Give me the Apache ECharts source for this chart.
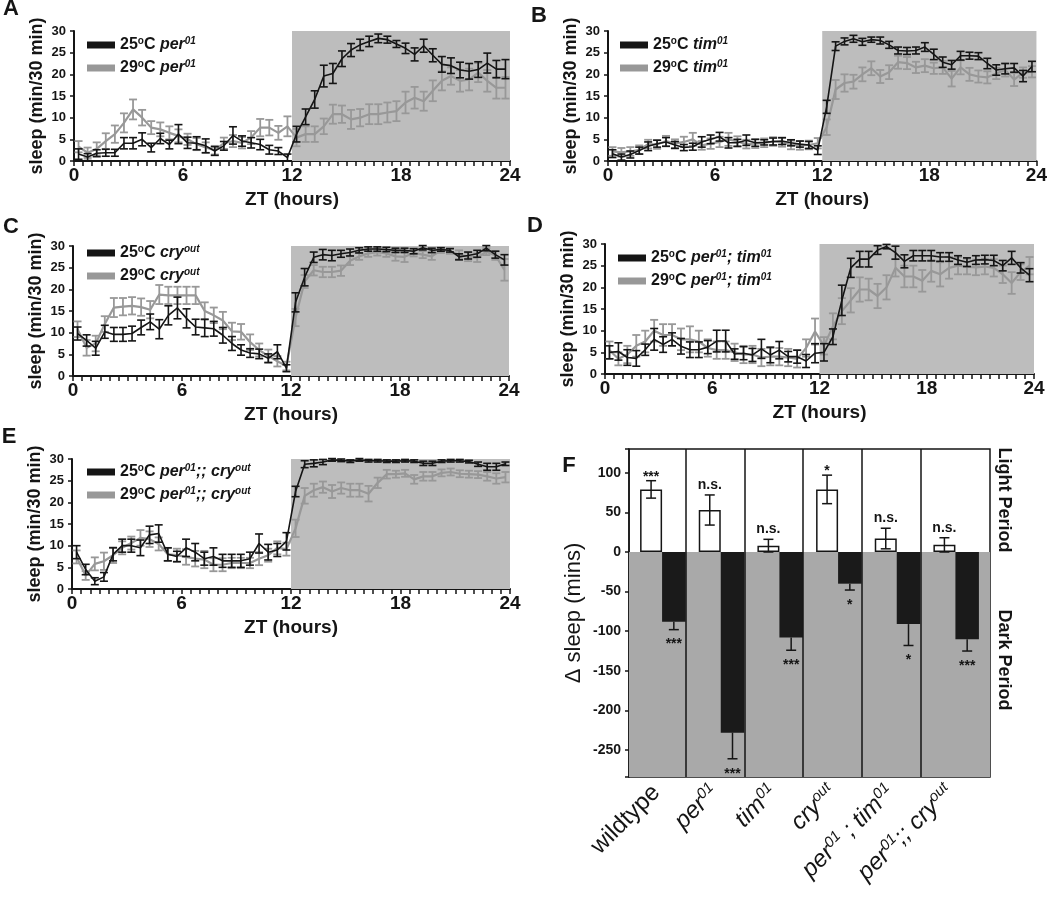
<!DOCTYPE html>
<html><head><meta charset="utf-8">
<script src="https://cdn.jsdelivr.net/npm/echarts@6/dist/echarts.min.js"></script>
<style>html,body{margin:0;padding:0;background:#fff}#c{width:1050px;height:900px}</style>
</head><body><div id="c"></div>
<script>
// ---------- DATA ----------
const ZT = [0.25,0.75,1.25,1.75,2.25,2.75,3.25,3.75,4.25,4.75,5.25,5.75,6.25,6.75,7.25,7.75,8.25,8.75,9.25,9.75,10.25,10.75,11.25,11.75,
  12.25,12.75,13.25,13.75,14.25,14.75,15.25,15.75,16.25,16.75,17.25,17.75,18.25,18.75,19.25,19.75,20.25,20.75,21.25,21.75,22.25,22.75,23.25,23.75];
const xTickLabels = [0,6,12,18,24];

const A25 = [1.6,0.9,1.8,1.9,1.9,4.1,4.1,5.0,3.1,5.2,3.8,6.2,4.2,4.1,3.5,2.3,3.5,5.9,4.6,4.2,3.8,2.6,2.3,0.8,
  6.2,10.2,14.2,19.6,20.2,23.6,25.6,26.8,27.6,28.3,28.0,27.0,26.0,24.6,26.6,24.4,22.3,22.0,21.0,20.7,21.1,22.6,21.2,21.2];
const A25err = [1.2,0.8,0.8,0.8,0.8,1.3,1.3,1.5,1.0,1.2,1.0,2.2,1.3,1.5,1.6,1.0,1.0,2.0,1.2,1.2,1.2,1.0,0.8,0.8,
  1.8,1.8,2.0,2.5,2.3,1.8,1.5,1.3,1.2,1.0,0.8,0.8,1.2,1.5,1.5,1.5,1.8,1.8,1.8,1.8,1.8,2.3,2.0,2.2];
const A29 = [3.3,1.9,2.8,4.6,6.2,8.8,11.9,10.0,7.7,7.3,6.5,5.8,5.0,3.9,3.1,2.5,4.1,4.6,4.2,5.4,7.7,7.7,6.5,8.0,
  5.4,6.2,6.2,8.0,10.8,10.8,9.6,10.0,10.8,10.8,11.2,11.5,13.5,14.6,13.8,16.2,18.5,19.6,18.5,18.8,20.4,18.5,16.9,16.9];
const A29err = [1.3,1.2,1.5,1.8,2.0,2.2,2.3,1.8,1.5,1.6,1.5,1.5,1.3,1.4,1.2,1.0,1.3,1.4,1.3,1.5,2.0,1.8,1.6,2.3,
  2.0,1.8,1.8,1.8,2.2,2.0,2.2,2.0,2.3,2.3,2.3,2.3,2.5,2.5,2.2,2.4,2.2,2.0,2.5,2.5,2.2,2.5,2.5,2.5];

const B25 = [1.7,0.9,1.5,2.4,3.4,4.0,4.4,3.7,3.1,3.3,4.4,5.0,5.6,4.2,4.2,4.8,4.2,4.3,4.5,4.6,4.2,3.9,3.7,2.5,
  12.5,26.5,27.6,28.2,27.5,28.0,27.8,26.8,25.5,25.4,25.5,26.3,24.6,22.8,22.2,24.3,24.3,24.2,22.5,21.0,21.3,21.5,19.6,21.8];
const B25err = [0.9,0.7,0.8,0.8,1.0,0.8,1.0,0.8,0.7,0.8,1.2,1.0,1.0,1.2,0.8,1.2,0.8,0.6,0.8,0.8,0.7,0.7,0.8,1.0,
  1.5,1.0,0.8,0.8,0.8,0.6,0.8,0.8,0.8,0.8,0.8,1.0,1.2,1.2,1.0,1.0,0.8,0.8,1.2,1.2,1.2,1.0,1.3,1.2];
const B29 = [2.2,2.0,2.2,2.6,3.9,3.8,4.6,4.0,4.4,5.0,3.6,4.0,4.4,5.0,4.5,3.9,4.0,4.2,4.5,4.3,3.7,3.6,3.7,4.1,
  7.8,16.5,18.0,18.3,20.0,21.4,19.5,20.5,22.8,22.6,21.6,22.0,21.4,21.6,19.0,21.6,20.0,19.5,19.3,20.2,21.0,18.8,20.4,20.6];
const B29err = [1.0,1.0,1.0,1.0,1.0,1.0,1.2,1.0,1.2,1.5,1.0,1.2,1.2,1.5,1.2,1.0,1.0,1.0,1.0,1.0,1.0,1.0,1.0,1.2,
  1.8,2.2,2.0,1.6,1.6,1.6,1.5,1.6,1.5,1.4,1.3,1.5,1.3,1.5,1.8,1.6,1.5,1.4,1.4,1.3,1.5,1.5,1.2,1.3];

const C25 = [9.8,8.2,6.4,10.2,9.6,9.6,9.8,11.2,12.5,10.8,14.0,15.7,13.3,11.3,11.1,10.9,9.4,7.5,6.0,5.3,5.1,4.1,5.6,1.8,
  17.0,22.8,27.4,28.0,27.8,28.2,28.5,29.0,29.3,29.3,29.2,29.0,29.0,28.8,29.6,29.0,29.2,29.0,27.5,27.8,28.2,29.5,28.0,26.8];
const C25err = [1.5,1.3,1.6,1.5,1.6,1.6,1.7,1.7,1.8,2.2,2.2,2.5,2.2,1.8,2.0,1.7,1.8,1.6,1.2,1.0,1.1,1.0,1.6,0.8,
  2.2,2.0,1.2,1.2,1.2,0.8,0.8,0.6,0.5,0.5,0.5,0.5,0.5,0.6,0.5,0.5,0.4,0.4,0.7,0.8,0.8,0.6,0.8,1.2];
const C29 = [10.8,6.5,7.5,12.0,15.8,16.0,16.2,15.9,15.3,18.8,18.6,18.6,18.6,18.6,15.0,14.0,12.8,10.3,10.2,7.8,6.0,4.6,3.4,2.3,
  13.5,21.8,24.4,24.0,24.0,24.3,26.6,27.6,28.3,28.6,28.3,27.6,27.5,28.4,28.0,27.6,29.0,28.8,28.0,27.5,27.3,28.7,27.8,24.5];
const C29err = [1.8,1.8,1.8,1.8,2.2,2.0,2.0,2.0,2.0,2.2,2.0,2.0,2.0,2.0,2.0,1.8,2.0,2.0,1.8,1.8,1.5,1.5,1.2,1.0,
  2.0,1.5,1.2,1.2,1.2,1.2,1.0,0.8,0.8,0.8,0.8,1.0,1.2,0.8,0.8,0.8,0.6,0.6,1.0,1.0,1.0,0.8,1.0,2.5];

const D25 = [5.0,5.2,3.8,3.6,5.6,8.0,6.8,8.0,6.4,5.6,5.6,6.2,7.6,7.6,4.6,4.8,4.4,5.8,4.4,5.5,4.0,4.0,3.0,4.8,
  5.0,8.6,17.0,24.5,26.5,26.5,28.6,29.4,28.0,26.0,27.3,27.3,27.3,27.0,27.0,26.3,25.8,26.3,26.4,26.2,25.0,26.8,24.5,22.8];
const D25err = [1.5,2.0,1.8,1.8,1.3,2.5,1.8,1.5,1.8,1.8,1.8,1.5,2.5,2.5,1.2,1.5,1.5,2.2,1.8,2.0,1.2,1.5,1.5,2.2,
  2.0,1.8,3.5,2.2,1.8,1.8,1.0,0.5,1.5,1.5,1.2,1.2,1.2,1.0,1.0,1.0,1.0,1.0,1.0,1.2,1.2,1.5,1.2,1.5];
const D29 = [5.5,3.5,4.5,6.5,7.5,10.0,9.0,9.0,8.0,8.0,7.5,6.0,5.5,5.5,5.0,4.5,4.5,3.8,4.0,4.0,3.8,3.5,6.0,9.8,
  6.5,11.0,14.5,17.0,19.5,19.5,18.0,20.0,24.5,22.5,22.5,21.5,23.8,23.0,24.5,25.0,24.8,24.6,24.8,24.5,23.0,21.0,23.5,25.0];
const D29err = [2.0,1.5,2.0,2.5,2.5,2.5,2.5,2.5,2.5,3.0,2.5,2.0,2.0,2.0,2.0,2.0,2.0,2.0,2.0,2.0,2.0,2.0,2.0,3.0,
  2.0,3.0,3.0,2.8,2.8,2.5,2.8,2.8,2.0,2.5,2.5,2.5,2.5,2.8,2.5,2.0,1.8,1.8,1.8,2.0,2.0,2.5,1.8,2.0];

const E25 = [8.5,4.5,1.8,2.8,8.0,10.0,10.0,9.5,12.5,12.8,8.0,7.5,9.5,8.5,7.0,7.5,6.5,6.5,6.5,7.0,10.5,8.5,9.0,11.0,
  22.5,28.8,29.0,29.3,29.8,29.7,29.5,29.8,29.6,29.6,29.5,29.5,29.6,29.5,29.0,29.0,29.5,29.6,29.6,29.4,28.8,28.2,28.2,28.9];
const E25err = [1.5,1.2,0.8,1.0,1.5,1.5,1.5,1.8,2.0,2.0,1.5,1.2,2.0,2.0,1.5,2.0,1.5,1.5,1.5,1.5,2.2,1.8,1.5,2.0,
  1.2,0.8,0.8,0.6,0.3,0.3,0.3,0.3,0.3,0.3,0.3,0.3,0.3,0.3,0.5,0.5,0.3,0.3,0.3,0.3,0.5,0.8,0.8,0.4];
const E29 = [7.4,3.1,5.8,6.4,7.8,9.5,10.6,11.8,11.5,10.4,8.0,7.8,7.4,7.0,6.8,5.6,5.6,6.0,6.0,6.0,7.0,7.8,9.5,9.2,
  14.0,21.5,22.8,23.5,22.5,23.3,22.8,22.8,22.0,24.5,26.5,26.5,26.7,25.3,26.0,26.0,26.8,27.0,26.6,26.5,26.4,26.0,25.5,25.8];
const E29err = [1.5,1.0,1.5,2.0,1.8,1.5,1.5,1.8,1.8,1.5,1.5,1.5,1.8,1.8,2.0,1.5,1.5,1.2,1.2,1.2,1.5,1.5,1.5,1.5,
  2.0,1.8,1.5,1.3,1.5,1.3,1.5,1.5,1.8,1.2,1.0,0.8,0.8,1.0,1.0,1.0,0.8,0.8,0.8,0.8,0.8,1.0,1.2,1.2];

// Panel F
const fCategories = ['wildtype','per01','tim01','cryout','per01 ; tim01','per01;; cryout'];
const lightVals = [79, 53, 8, 79, 17, 9];
const lightErr  = [11, 19, 8, 18, 13, 9];
const darkVals  = [-88, -228, -108, -40, -91, -110];
const darkErr   = [10, 33, 16, 8, 27, 15];
const sigLight  = ['***','n.s.','n.s.','*','n.s.','n.s.'];
const sigDark   = ['***','***','***','*','*','***'];

// ---------- STYLE ----------
const FF = 'Liberation Sans, Arial, Helvetica, sans-serif';
const BLACK = '#151515', GREY = '#989898', SHADE = '#bdbdbd', FSHADE = '#a9a9a9';

const panels = [
  {k:'A', grid:{left:74, top:31, width:436, height:130}, leg:{left:87, top:36}, gene:'{i|per}{s|01}', d25:A25,e25:A25err,d29:A29,e29:A29err},
  {k:'B', grid:{left:608, top:31, width:429, height:130}, leg:{left:620, top:36}, gene:'{i|tim}{s|01}', d25:B25,e25:B25err,d29:B29,e29:B29err},
  {k:'C', grid:{left:73, top:246, width:436, height:130}, leg:{left:87, top:244}, gene:'{i|cry}{s|out}', d25:C25,e25:C25err,d29:C29,e29:C29err},
  {k:'D', grid:{left:605, top:244, width:429, height:130}, leg:{left:618, top:249}, gene:'{i|per}{s|01}{i|; tim}{s|01}', d25:D25,e25:D25err,d29:D29,e29:D29err},
  {k:'E', grid:{left:72, top:459, width:438, height:130}, leg:{left:87, top:463}, gene:'{i|per}{s|01}{i|;; cry}{s|out}', d25:E25,e25:E25err,d29:E29,e29:E29err}
];

const grid = [], xAxis = [], yAxis = [], series = [], legend = [], graphic = [];

function errSeries(gi, xs, ys, es, color, z, lw) {
  return {
    type:'custom', xAxisIndex:gi, yAxisIndex:gi, z, silent:true,
    encode:{x:0, y:[1,2]},
    data: xs.map((x,i)=>[x, ys[i]-es[i], ys[i]+es[i]]),
    renderItem(params, api){
      const lo = api.coord([api.value(0), api.value(1)]);
      const hi = api.coord([api.value(0), api.value(2)]);
      const w = 4, st = {stroke:color, lineWidth:lw};
      return {type:'group', children:[
        {type:'line', shape:{x1:lo[0],y1:lo[1],x2:hi[0],y2:hi[1]}, style:st},
        {type:'line', shape:{x1:lo[0]-w,y1:lo[1],x2:lo[0]+w,y2:lo[1]}, style:st},
        {type:'line', shape:{x1:hi[0]-w,y1:hi[1],x2:hi[0]+w,y2:hi[1]}, style:st}
      ]};
    }
  };
}

const legRich = {
  d:{fontSize:10, fontWeight:'bold', fontFamily:FF, color:BLACK, verticalAlign:'top', lineHeight:10},
  i:{fontSize:16, fontWeight:'bold', fontStyle:'italic', fontFamily:FF, color:BLACK, lineHeight:18},
  s:{fontSize:10, fontWeight:'bold', fontStyle:'italic', fontFamily:FF, color:BLACK, verticalAlign:'top', lineHeight:10}
};

panels.forEach((p, gi) => {
  grid.push(Object.assign({containLabel:false}, p.grid));
  xAxis.push({
    gridIndex:gi, type:'value', min:0, max:24, interval:0.5,
    axisLine:{lineStyle:{color:BLACK, width:2}},
    axisTick:{show:true, length:5, lineStyle:{color:BLACK, width:1.5}},
    axisLabel:{formatter: v => xTickLabels.includes(v) ? String(v) : '', fontSize:19, fontWeight:'bold', fontFamily:FF, color:BLACK, margin:5},
    splitLine:{show:false},
    name:'ZT (hours)', nameLocation:'middle', nameGap:29,
    nameTextStyle:{fontSize:19, fontWeight:'bold', fontFamily:FF, color:BLACK}
  });
  yAxis.push({
    gridIndex:gi, type:'value', min:0, max:30, interval:5,
    axisLine:{show:true, lineStyle:{color:BLACK, width:2}},
    axisTick:{show:true, length:4, lineStyle:{color:BLACK, width:1.5}},
    axisLabel:{fontSize:13, fontWeight:'bold', fontFamily:FF, color:BLACK, margin:8},
    splitLine:{show:false},
    name:'sleep (min/30 min)', nameLocation:'middle', nameGap:28,
    nameTextStyle:{fontSize:18, fontWeight:'bold', fontFamily:FF, color:BLACK}
  });
  series.push({type:'line', xAxisIndex:gi, yAxisIndex:gi, data:[], z:1, silent:true,
    markArea:{silent:true, itemStyle:{color:SHADE, opacity:1}, data:[[{xAxis:12},{xAxis:24}]]}});
  series.push(errSeries(gi, ZT, p.d29, p.e29, GREY, 3, 1.8));
  series.push({type:'line', name:p.k+'29', xAxisIndex:gi, yAxisIndex:gi, z:4,
    data: ZT.map((x,i)=>[x, p.d29[i]]), symbol:'none', color:GREY,
    lineStyle:{color:GREY, width:2.2}, itemStyle:{color:GREY}});
  series.push(errSeries(gi, ZT, p.d25, p.e25, BLACK, 5, 1.6));
  series.push({type:'line', name:p.k+'25', xAxisIndex:gi, yAxisIndex:gi, z:6,
    data: ZT.map((x,i)=>[x, p.d25[i]]), symbol:'none', color:BLACK,
    lineStyle:{color:BLACK, width:1.6}, itemStyle:{color:BLACK}});
  legend.push({
    left:p.leg.left, top:p.leg.top, orient:'vertical', padding:0, itemGap:5,
    itemWidth:28, itemHeight:7, icon:'rect', selectedMode:false,
    data:[p.k+'25', p.k+'29'],
    formatter: name => (name.endsWith('25') ? '25{d|o}C ' : '29{d|o}C ') + p.gene,
    textStyle:{fontSize:16, fontWeight:'bold', fontFamily:FF, color:BLACK, lineHeight:18, rich:legRich}
  });
});

// ---------- Panel F ----------
const GF = 5, GB = 6;
grid.push({left:629, top:449, width:361, height:328, show:true, borderColor:BLACK, borderWidth:1.5, backgroundColor:'#fff'});
grid.push({left:627, top:449, width:352, height:328});
xAxis.push({gridIndex:GF, type:'value', min:0, max:1, show:false});
yAxis.push({
  gridIndex:GF, type:'value', min:-284, max:130, splitNumber:8,
  axisLine:{show:true, lineStyle:{color:BLACK, width:1.5}},
  axisTick:{show:true, length:4, lineStyle:{color:BLACK, width:1.5}},
  axisLabel:{formatter: v => (v % 50 === 0 ? String(v) : ''), fontSize:14, fontWeight:'bold', fontFamily:FF, color:BLACK, margin:8},
  splitLine:{show:false},
  name:'Δ sleep (mins)', nameLocation:'middle', nameGap:44,
  nameTextStyle:{fontSize:22, fontFamily:FF, color:BLACK}
});
function richName(n){
  if (n === 'wildtype') return n;
  return n.replace(/(per|tim|cry)(01|out)/g, '{i|$1}{s|$2}').replace(/(\}) ?(;+) ?(\{)/g, (m,a,b,c)=> a + '{i|' + m.slice(1, -1) + '}' + c);
}
xAxis.push({gridIndex:GB, type:'category', data:fCategories,
  axisLine:{show:false}, axisTick:{show:false}, splitLine:{show:false},
  axisLabel:{interval:0, rotate:45, margin:12, fontSize:24, fontFamily:FF, color:BLACK,
    formatter: v => richName(v),
    rich:{
      i:{fontSize:24, fontStyle:'italic', fontFamily:FF, color:BLACK, lineHeight:26},
      s:{fontSize:15, fontStyle:'italic', fontFamily:FF, color:BLACK, verticalAlign:'top', lineHeight:15}
    }}
});
xAxis.push({gridIndex:GB, type:'value', min:0, max:6, show:false});
yAxis.push({gridIndex:GB, type:'value', min:-284, max:130, show:false});

series.push({type:'line', xAxisIndex:GF, yAxisIndex:GF, data:[], z:1, silent:true,
  markArea:{silent:true, itemStyle:{color:FSHADE, opacity:1}, data:[[{yAxis:-284},{yAxis:0}]]}});
series.push({type:'line', xAxisIndex:7, yAxisIndex:GB, data:[], z:2, silent:true,
  markLine:{silent:true, symbol:['none','none'], label:{show:false},
    lineStyle:{color:BLACK, width:1.5, type:'solid'},
    data:[{xAxis:1},{xAxis:2},{xAxis:3},{xAxis:4},{xAxis:5}]}});
const W0 = 13, W1 = 22, W2 = 23.5;
series.push({type:'bar', xAxisIndex:6, yAxisIndex:GB, data:fCategories.map(()=>0), barWidth:W0, barGap:'0%',
  itemStyle:{color:'rgba(0,0,0,0)'}, silent:true, z:3});
series.push({type:'bar', name:'Light', xAxisIndex:6, yAxisIndex:GB, data:lightVals, barWidth:W1, barGap:'0%',
  itemStyle:{color:'#fff', borderColor:BLACK, borderWidth:1.5}, z:3});
series.push({type:'bar', name:'Dark', xAxisIndex:6, yAxisIndex:GB, data:darkVals, barWidth:W2, barGap:'0%',
  itemStyle:{color:'#1a1a1a'}, z:3});
series.push({
  type:'custom', xAxisIndex:6, yAxisIndex:GB, z:5, silent:true,
  encode:{x:0, y:1},
  data: fCategories.map((c,i)=>[i, lightVals[i], darkVals[i]]),
  renderItem(params, api){
    const i = params.dataIndex;
    const c = api.coord([i, 0]);
    const tot = W0 + W1 + W2;
    const xl = c[0] - tot/2 + W0 + W1/2;
    const xd = c[0] - tot/2 + W0 + W1 + W2/2;
    const st = {stroke:BLACK, lineWidth:1.5}, w = 5;
    const lTop = api.coord([i, lightVals[i] + lightErr[i]])[1];
    const lBot = api.coord([i, lightVals[i] - lightErr[i]])[1];
    const dEnd = api.coord([i, darkVals[i]])[1];
    const dBot = api.coord([i, darkVals[i] - darkErr[i]])[1];
    const sl = sigLight[i], sd = sigDark[i];
    const font = 'bold 14px ' + FF;
    return {type:'group', children:[
      {type:'line', shape:{x1:xl,y1:lTop,x2:xl,y2:lBot}, style:st},
      {type:'line', shape:{x1:xl-w,y1:lTop,x2:xl+w,y2:lTop}, style:st},
      {type:'line', shape:{x1:xl-w,y1:lBot,x2:xl+w,y2:lBot}, style:st},
      {type:'line', shape:{x1:xd,y1:dEnd,x2:xd,y2:dBot}, style:st},
      {type:'line', shape:{x1:xd-w,y1:dBot,x2:xd+w,y2:dBot}, style:st},
      {type:'text', style:{text:sl, x:xl, y:lTop + (sl.indexOf('*')>=0 ? 3 : -3), align:'center', verticalAlign:'bottom', font, fill:BLACK}},
      {type:'text', style:{text:sd, x:xd, y:dBot + 8, align:'center', verticalAlign:'top', font, fill:BLACK}}
    ]};
  }
});

graphic.push({type:'text', x:1004, y:500, rotation:-Math.PI/2, style:{text:'Light Period', font:'bold 18px '+FF, fill:BLACK, align:'center', verticalAlign:'middle'}});
graphic.push({type:'text', x:1004, y:660, rotation:-Math.PI/2, style:{text:'Dark Period', font:'bold 18px '+FF, fill:BLACK, align:'center', verticalAlign:'middle'}});
[['A',11,9],['B',539,16],['C',11,227],['D',535,226],['E',9,437],['F',569,466]].forEach(([t,x,y])=>{
  graphic.push({type:'text', x, y, style:{text:t, font:'bold 22px '+FF, fill:BLACK, align:'center', verticalAlign:'middle'}});
});

const chart = echarts.init(document.getElementById('c'), null, {renderer:'canvas'});
chart.setOption({animation:false, backgroundColor:'#fff', grid, xAxis, yAxis, series, legend, graphic, tooltip:{show:false}});
</script>
</body></html>
